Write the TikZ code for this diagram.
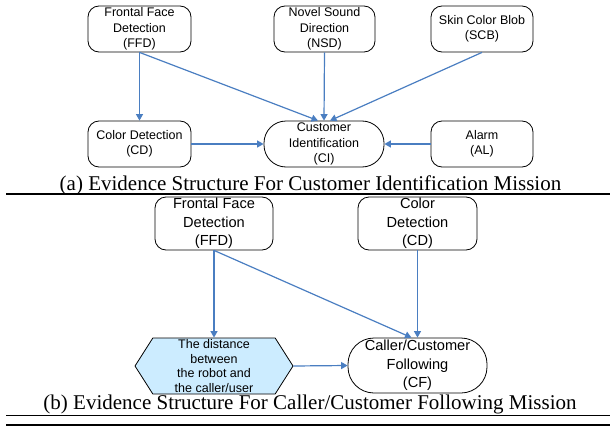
\documentclass[tikz,border=0pt]{standalone}
\usepackage{fontspec}
\setmainfont{Liberation Serif}
\newfontfamily\arial{Liberation Sans}
\usetikzlibrary{arrows.meta,shapes.symbols}
\definecolor{strelica}{RGB}{74,126,193}
\definecolor{svetloplava}{RGB}{204,236,255}
\tikzset{
    kutija/.style={draw=black, line width=0.8pt, rounded corners=11pt, align=center,
        inner sep=0pt, font=\arial\fontsize{12.5}{15.5}\selectfont},
    veca/.style={kutija, font=\arial\fontsize{14.6}{18.5}\selectfont},
    misija/.style={kutija, rounded corners=22pt},
    sestougao/.style={shape=signal, signal to=east and west, signal pointer angle=115,
        draw=black, line width=0.8pt, fill=svetloplava, align=center, inner sep=0pt,
        font=\arial\fontsize{12.5}{14.6}\selectfont},
    veza/.style={-{Triangle[length=6.5pt,width=7pt]}, draw=strelica, line width=1.2pt},
    naslov/.style={font=\fontsize{21}{24}\selectfont, anchor=base, inner sep=0pt}
}
\begin{document}
\begin{tikzpicture}[x=1pt, y=-1pt]
    \useasboundingbox (0,0) rectangle (610,428);
    % (a) cvorovi za identifikaciju kupca
    \node [kutija, minimum width=103pt, minimum height=46pt] (ffdA) at (139.5,29) {Frontal Face\\Detection\\(FFD)};
    \node [kutija, minimum width=101pt, minimum height=46pt] (nsdA) at (324.5,29) {Novel Sound\\Direction\\(NSD)};
    \node [kutija, minimum width=102pt, minimum height=46pt] (scbA) at (482,29) {Skin Color Blob\\(SCB)};
    \node [kutija, minimum width=103pt, minimum height=46pt] (cdA) at (139.5,144) {Color Detection\\(CD)};
    \node [misija, minimum width=120pt, minimum height=46pt] (ciA) at (324,144) {Customer\\Identification\\(CI)};
    \node [kutija, minimum width=102pt, minimum height=46pt] (alA) at (482,144) {Alarm\\(AL)};
    % (a) strelice
    \foreach \od/\ka in {ffdA.south/cdA.north, nsdA.south/ciA.north, cdA.east/ciA.west, alA.west/ciA.east}{
        \draw [veza] (\od) -- (\ka);
    }
    \draw [veza] (ffdA.south) -- ([xshift=-6pt]ciA.north);
    \draw [veza] (scbA.south) -- ([xshift=6pt]ciA.north);
    \node [naslov] (natpisA) at (310.5,190) {(a) Evidence Structure For Customer Identification Mission};
    \draw [line width=1.6pt] (6,194) -- (610,194);
    % (b) cvorovi za pracenje
    \node [veca, minimum width=118pt, minimum height=53pt] (ffdB) at (214,223.5) {Frontal Face\\Detection\\(FFD)};
    \node [veca, minimum width=119pt, minimum height=53pt] (cdB) at (417.5,223.5) {Color\\Detection\\(CD)};
    \node [sestougao, minimum width=158pt, minimum height=56pt] (rastojanje) at (214,366) {The distance\\between\\the robot and\\the caller/user};
    \node [misija, font=\arial\fontsize{14.6}{18.5}\selectfont, rounded corners=26pt,
        minimum width=139pt, minimum height=55pt] (cfB) at (417.5,365.5) {Caller/Customer\\Following\\(CF)};
    % (b) strelice
    \foreach \od/\ka in {ffdB.south/rastojanje.north, cdB.south/cfB.north, rastojanje.east/cfB.west}{
        \draw [veza] (\od) -- (\ka);
    }
    \draw [veza] (ffdB.south) -- ([xshift=-6pt]cfB.north);
    \node [naslov] (natpisB) at (310,409) {(b) Evidence Structure For Caller/Customer Following Mission};
    \draw [line width=1pt] (6,415) -- (610,415);
    \draw [line width=2.4pt] (6,425) -- (610,425);
\end{tikzpicture}
\end{document}
